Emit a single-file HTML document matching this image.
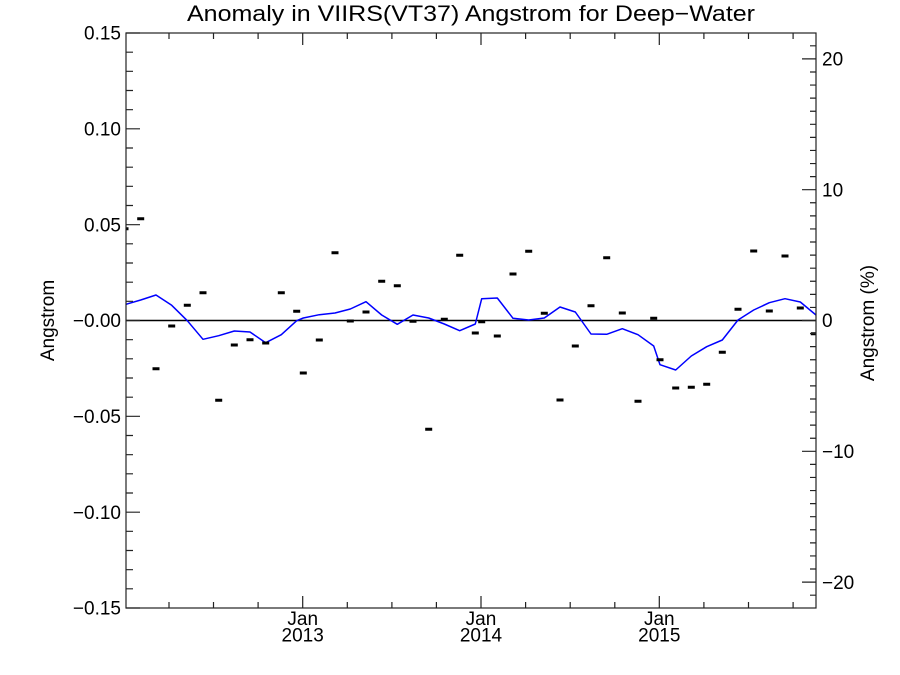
<!DOCTYPE html>
<html>
<head>
<meta charset="utf-8">
<style>
html,body{margin:0;padding:0;background:#fff}
svg{display:block}
text{font-family:"Liberation Sans",Arial,sans-serif;fill:#000}
</style>
</head>
<body>
<svg width="900" height="675" viewBox="0 0 900 675" xmlns="http://www.w3.org/2000/svg">
<defs><clipPath id="pc"><rect x="126" y="33" width="690" height="575"/></clipPath></defs>
<text x="187" y="21" font-size="22" textLength="568" lengthAdjust="spacingAndGlyphs">Anomaly in VIIRS(VT37) Angstrom for Deep−Water</text>
<line x1="126" y1="320.5" x2="816" y2="320.5" stroke="#000" stroke-width="1.5"/>
<g clip-path="url(#pc)">
<polyline fill="none" stroke="#00f" stroke-width="1.5" stroke-linejoin="round" points="125,304.6 140.7,300 156,295 171.7,305.3 187.3,320.7 203,339.3 218.7,335.7 234.3,331 250,332 265.7,342.7 281.3,334.7 296.7,320.7 303.3,318 319.3,314.7 335,313 350.3,309 366,301.7 381.7,315 397.3,324.3 413,315 428.7,318 444.3,324 459.7,330.7 475.3,324 481.7,298.7 497.3,298 513,318.3 528.7,320 544.3,318 560,307 575.3,312 591,334 606.7,334.3 622.3,328.7 638,334.7 653.7,346 660,364.7 675.7,370 691.3,356 706.7,346.7 722.3,340 738,320 753.7,310 769.3,302.7 785,298.7 800.3,302 816,315"/>
<path stroke="#000" stroke-width="3" fill="none" d="M121.5 228.7h7M137.2 218.7h7M152.5 368.7h7M168.2 326h7M183.8 305.3h7M199.5 292.7h7M215.2 400.3h7M230.8 345h7M246.5 339.7h7M262.2 343h7M277.8 292.7h7M293.2 311.3h7M299.8 373h7M315.8 340h7M331.5 252.7h7M346.8 321h7M362.5 312h7M378.2 281.3h7M393.8 285.7h7M409.5 321.3h7M425.2 429.3h7M440.8 319.3h7M456.2 255.3h7M471.8 333h7M478.2 321.7h7M493.8 336h7M509.5 274h7M525.2 251.3h7M540.8 313.3h7M556.5 400h7M571.8 346h7M587.5 305.7h7M603.2 257.7h7M618.8 313h7M634.5 401.3h7M650.2 318.3h7M656.5 359.7h7M672.2 388h7M687.8 387.3h7M703.2 384.3h7M718.8 352.3h7M734.5 309.3h7M750.2 251h7M765.8 311h7M781.5 256h7M796.8 308h7M810.8 333.7h7"/>
</g>
<rect x="126" y="33" width="690" height="575" fill="none" stroke="#222" stroke-width="1.2"/>
<path fill="none" stroke="#222" stroke-width="1.2" d="M126 33h14m-14 19.17h7m-7 19.16h7m-7 19.17h7m-7 19.17h7m-7 19.16h14m-14 19.17h7m-7 19.17h7m-7 19.16h7m-7 19.17h7m-7 19.17h14m-14 19.16h7m-7 19.17h7m-7 19.17h7m-7 19.16h7m-7 19.17h14m-14 19.17h7m-7 19.16h7m-7 19.17h7m-7 19.17h7m-7 19.16h14m-14 19.17h7m-7 19.17h7m-7 19.16h7m-7 19.17h7m-7 19.17h14m-14 19.16h7m-7 19.17h7m-7 19.17h7m-7 19.16h7m-7 19.17h14"/>
<path fill="none" stroke="#222" stroke-width="1.2" d="M816 45.82h-6m6 13.08h-14m14 13.08h-6m6 13.08h-6m6 13.08h-6m6 13.08h-6m6 13.08h-6m6 13.08h-6m6 13.08h-6m6 13.08h-6m6 13.08h-6m6 13.08h-14m14 13.08h-6m6 13.08h-6m6 13.08h-6m6 13.08h-6m6 13.08h-6m6 13.08h-6m6 13.08h-6m6 13.08h-6m6 13.08h-6m6 13.08h-14m14 13.08h-6m6 13.08h-6m6 13.08h-6m6 13.08h-6m6 13.08h-6m6 13.08h-6m6 13.08h-6m6 13.08h-6m6 13.08h-6m6 13.08h-14m14 13.08h-6m6 13.08h-6m6 13.08h-6m6 13.08h-6m6 13.08h-6m6 13.08h-6m6 13.08h-6m6 13.08h-6m6 13.08h-6m6 13.08h-14m14 13.08h-6"/>
<path fill="none" stroke="#222" stroke-width="1.2" d="M169 608v-6m44.5 6v-6m44.6 6v-6m44.6 6v-12m44.6 12v-6m44.6 6v-6m44.5 6v-6m44.6 6v-12m44.6 12v-6m44.6 6v-6m44.6 6v-6m44.5 6v-12m44.6 12v-6m44.6 6v-6m44.6 6v-6"/>
<path fill="none" stroke="#222" stroke-width="1.2" d="M169 33v6m44.5-6v6m44.6-6v6m44.6-6v12m44.6-12v6m44.6-6v6m44.5-6v6m44.6-6v12m44.6-12v6m44.6-6v6m44.6-6v6m44.5-6v12m44.6-12v6m44.6-6v6m44.6-6v6"/>
<g font-size="19" text-anchor="end">
<text x="121" y="39.7">0.15</text><text x="121" y="135.5">0.10</text><text x="121" y="231.3">0.05</text><text x="121" y="327.2">−0.00</text><text x="121" y="423">−0.05</text><text x="121" y="518.8">−0.10</text><text x="121" y="614.7">−0.15</text>
</g>
<g font-size="19">
<text x="822" y="65.6">20</text><text x="822" y="196.4">10</text><text x="822" y="327.2">0</text><text x="822" y="458">−10</text><text x="822" y="588.8">−20</text>
</g>
<g font-size="19" text-anchor="middle">
<text x="302.7" y="625">Jan</text><text x="302.7" y="641.7">2013</text><text x="481" y="625">Jan</text><text x="481" y="641.7">2014</text><text x="659.3" y="625">Jan</text><text x="659.3" y="641.7">2015</text>
</g>
<text font-size="19" text-anchor="middle" transform="translate(54,320.5) rotate(-90)">Angstrom</text>
<text font-size="19" text-anchor="middle" transform="translate(874,323) rotate(-90)">Angstrom (%)</text>
</svg>
</body>
</html>
